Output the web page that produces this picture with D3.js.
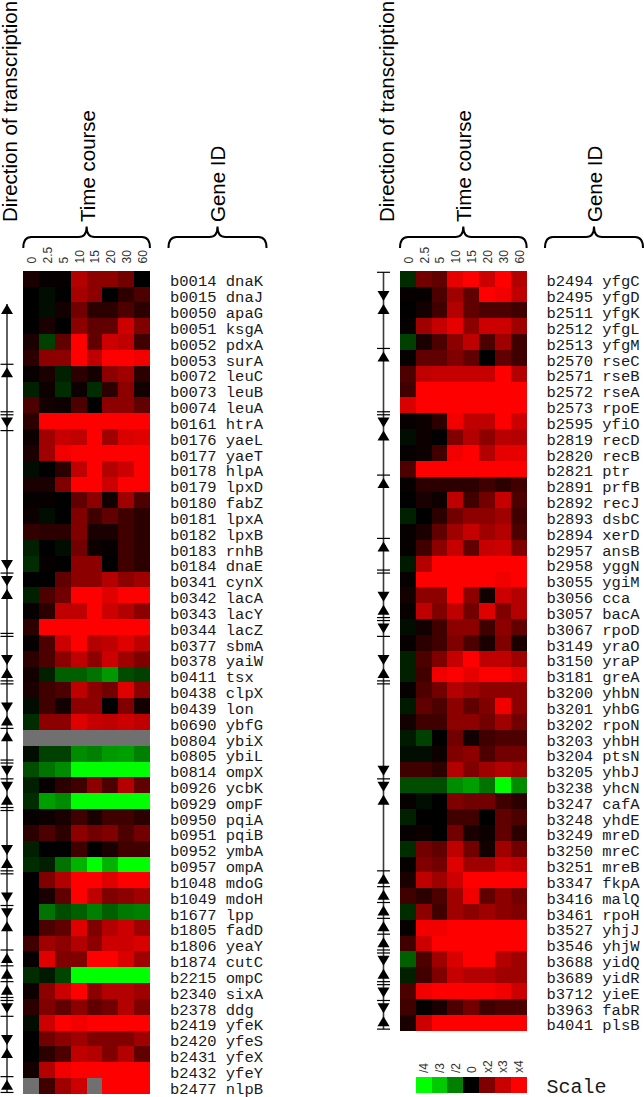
<!DOCTYPE html>
<html><head><meta charset="utf-8">
<script src="https://cdn.jsdelivr.net/npm/d3@7"></script>
<style>html,body{margin:0;padding:0;background:#fff;}svg{display:block;}</style>
</head><body>
<script>
// ---------------- DATA ----------------
const times = ["0","2.5","5","10","15","20","30","60"];

const leftIds = ["b0014","b0015","b0050","b0051","b0052","b0053","b0072","b0073","b0074","b0161","b0176","b0177","b0178","b0179","b0180","b0181","b0182","b0183","b0184","b0341","b0342","b0343","b0344","b0377","b0378","b0411","b0438","b0439","b0690","b0804","b0805","b0814","b0926","b0929","b0950","b0951","b0952","b0957","b1048","b1049","b1677","b1805","b1806","b1874","b2215","b2340","b2378","b2419","b2420","b2431","b2432","b2477"];
const leftNames = ["dnaK","dnaJ","apaG","ksgA","pdxA","surA","leuC","leuB","leuA","htrA","yaeL","yaeT","hlpA","lpxD","fabZ","lpxA","lpxB","rnhB","dnaE","cynX","lacA","lacY","lacZ","sbmA","yaiW","tsx","clpX","lon","ybfG","ybiX","ybiL","ompX","ycbK","ompF","pqiA","pqiB","ymbA","ompA","mdoG","mdoH","lpp","fadD","yeaY","cutC","ompC","sixA","ddg","yfeK","yfeS","yfeX","yfeY","nlpB"];
// log2 ratio per time point (null = missing)
const leftValues = [
[0.2,0.05,0.05,1.4,1.1,1.1,0.9,0],
[0,-0.1,0,1.3,1.1,0,0.35,0.6],
[0,-0.1,0.15,0.9,0.35,0.35,0.6,0.35],
[0,0.2,0,1.1,0.75,0.75,1.6,1.0],
[0.2,-0.5,0.75,2,0.75,1.6,1.5,0.5],
[0.35,1.1,1.1,2,1.5,2,2,1.9],
[0.05,0.2,-0.25,0.35,0.15,1.1,1.25,0.35],
[-0.25,0.1,-0.35,0.1,-0.35,0.35,1.1,0.15],
[0.6,0.15,0.1,0.6,0,1.1,1.1,0.75],
[0.35,2,2,2,2,2,2,2],
[0.1,1.25,1.55,1.5,2,1.25,1.7,1.75],
[0.2,1.25,1.9,2,2,2,2,2],
[-0.1,0,0.35,1.5,2,1.4,1.6,2],
[0.2,0.2,1.0,2,2,1.6,2,2],
[0.05,0.05,0,0.75,1.1,0.15,1.25,0.6],
[0.1,-0.1,0,1.0,0.5,0.75,0.5,0.35],
[0.4,0.35,0.35,1.0,0.2,0.2,0.5,0.35],
[-0.25,0,-0.1,0.9,0.1,0.05,0.5,0.35],
[-0.35,0.05,0,1.1,1.1,0,0.5,0.35],
[0,0,0.75,1.1,1.1,1.4,1.1,1.25],
[-0.25,0.6,0.9,2,2,1.75,2,2],
[0.05,0.35,1.5,1.5,2,1.6,1.4,1.1],
[0.35,2,2,2,2,2,2,2],
[0.05,0.6,1.6,2,1.4,1.5,1.75,1.5],
[0.35,0.6,1.1,1.5,1.1,1.6,1.25,1.0],
[0.15,-0.25,-0.75,-0.75,-0.9,-1.2,-0.6,-0.5],
[0.2,0.5,0.6,1.5,1.1,0.9,1.75,1.1],
[-0.1,0.5,0.15,1.1,1.1,0,1.0,0.15],
[-0.35,1.1,1.1,1.75,1.55,1.5,1.6,1.5],
[null,null,null,null,null,null,null,null],
[-0.1,-0.5,-0.5,-1.1,-1.0,-1.2,-1.25,-1.0],
[-0.6,-0.9,-1.1,-2,-2,-2,-2,-2],
[-0.25,0.05,0.35,0.5,1.1,0.6,1.4,0.75],
[-0.35,-1.25,-1.1,-2,-2,-2,-2,-2],
[0.05,0.1,0.2,0.5,0.2,0.5,0.5,0.35],
[0.35,0.6,0.35,1.1,0.9,1.0,0.6,0.9],
[-0.25,0,0,0.5,0,0.2,0.5,0.5],
[-0.35,-0.25,-0.9,-1.4,-2,-1.4,-2,-2],
[0,1.0,1.4,2,2,1.75,2,2],
[0,0.2,0.75,2,1.5,1.0,1.1,1.25],
[0,-0.9,-0.6,-0.75,-1.0,-0.75,-0.95,-1.0],
[0,0.6,0.75,1.75,1.0,1.4,1.6,1.25],
[0.5,1.25,1.1,1.4,1.1,1.6,1.6,1.7],
[0.05,1.75,1.0,1.0,2,2,1.7,1.25],
[-0.35,-0.2,-0.55,-2,-2,-2,-2,-2],
[0.1,1.1,1.6,2,1.1,1.4,1.4,1.25],
[0.35,1.0,0.75,1.1,0.75,0.9,1.4,1.0],
[-0.1,1.6,2,1.9,2,2,2,2],
[0,0.9,1.1,1.25,1.0,1.0,1.0,1.25],
[0,0.35,0.6,1.5,1.4,1.0,1.4,0.75],
[0.15,1.4,1.9,2,2,2,2,2],
[null,0.5,1.25,1.6,null,2,2,2]
];
// operons: [first gene, last gene, strand]
const leftOperons = [
["b0050","b0053","-"],["b0072","b0074","-"],["b0161","b0161","+"],["b0176","b0184","+"],
["b0341","b0341","+"],["b0342","b0344","-"],["b0377","b0378","+"],["b0411","b0411","-"],
["b0438","b0439","+"],["b0690","b0690","-"],["b0804","b0805","-"],["b0814","b0814","+"],
["b0926","b0926","+"],["b0929","b0929","-"],["b0950","b0952","+"],["b0957","b0957","-"],
["b1048","b1049","+"],["b1677","b1677","+"],["b1805","b1806","-"],["b1874","b1874","-"],
["b2215","b2215","-"],["b2340","b2340","-"],["b2378","b2378","+"],["b2419","b2420","+"],
["b2431","b2432","-"],["b2477","b2477","-"]
];

const rightIds = ["b2494","b2495","b2511","b2512","b2513","b2570","b2571","b2572","b2573","b2595","b2819","b2820","b2821","b2891","b2892","b2893","b2894","b2957","b2958","b3055","b3056","b3057","b3067","b3149","b3150","b3181","b3200","b3201","b3202","b3203","b3204","b3205","b3238","b3247","b3248","b3249","b3250","b3251","b3347","b3416","b3461","b3527","b3546","b3688","b3689","b3712","b3963","b4041"];
const rightNames = ["yfgC","yfgD","yfgK","yfgL","yfgM","rseC","rseB","rseA","rpoE","yfiO","recD","recB","ptr","prfB","recJ","dsbC","xerD","ansB","yggN","ygiM","cca","bacA","rpoD","yraO","yraP","greA","yhbN","yhbG","rpoN","yhbH","ptsN","yhbJ","yhcN","cafA","yhdE","mreD","mreC","mreB","fkpA","malQ","rpoH","yhjJ","yhjW","yidQ","yidR","yieE","fabR","plsB"];
const rightValues = [
[-0.35,0.9,0.75,1.8,2,1.6,2,1.4],
[0.05,0.05,0.6,1.25,0.75,2,1.9,1.5],
[0,0.15,0.5,1.4,0.75,0.6,0.6,0.5],
[0.05,1.25,1.55,1.8,1.1,1.6,1.6,1.25],
[-0.5,0.2,0.6,1.1,1.5,0.6,1.25,0.5],
[0.05,0.75,0.75,1.0,0.75,0,0.75,0.5],
[0.6,1.5,1.55,1.55,1.55,1.55,2,1.4],
[0.5,2,2,2,2,2,2,2],
[1.7,2,2,2,2,2,2,2],
[0.05,0.1,0.35,1.9,1.5,1.5,2,1.6],
[-0.1,0.1,0,1.0,1.4,1.1,1.45,1.4],
[0.05,0.1,0.5,1.9,2,1.4,1.8,1.8],
[0.6,2,2,2,2,2,2,2],
[0.05,0.35,0.35,0.35,0.35,0.5,0.35,0.5],
[0,0.2,0.1,1.5,0.5,0.9,1.55,0.6],
[-0.25,0,0.35,0.9,1.1,1.1,1.25,0.5],
[0.05,0.2,0.75,1.25,1.55,1.25,1.4,0.6],
[0.05,0.5,1.1,1.55,0.75,1.55,1.6,1.0],
[-0.2,1.4,2,2,2,2,2,2],
[0.05,2,2,2,2,2,1.9,2],
[0.15,1.1,1.1,2,1.1,0.15,1.6,1.4],
[0.05,1.5,1.0,1.5,0.9,1.75,1.0,1.4],
[-0.1,0.15,0.5,1.1,1.1,0.5,1.1,0.75],
[0.05,0.35,0.5,1.0,0.6,0.2,1.0,0.2],
[-0.25,0.6,1.0,1.55,2,1.5,1.5,1.25],
[-0.25,0.5,1.9,2,1.8,2,2,1.8],
[0.05,0.6,0.9,1.4,1.25,1.1,1.1,1.1],
[-0.2,0.75,0.6,1.1,0.75,1.0,1.9,1.1],
[0.15,0.5,0.5,1.1,1.1,0.9,1.25,0.9],
[-0.2,-0.5,0,0.9,0.15,0.5,0.6,0.6],
[-0.1,-0.1,0.1,1.0,1.1,0.6,0.9,0.9],
[0.5,0.5,0.35,1.4,1.0,1.25,1.4,1.25],
[-0.6,-0.6,-0.6,-1.1,-1.25,-0.9,-2,-1.1],
[0.05,-0.1,0,1.0,0.9,0.9,0.5,0.35],
[-0.25,0,0,0.5,0.5,0,0.75,0.6],
[0.05,0.1,0,0.9,0.2,0.1,0.75,0.35],
[-0.35,0.9,0.75,1.5,0.9,0.15,1.25,0.9],
[0.05,1.0,0.9,1.75,1.25,1.25,1.6,1.5],
[0.2,1.5,1.25,1.6,2,2,2,2],
[0.5,0.35,0.6,1.25,1.9,0.75,1.1,0.9],
[-0.35,1.1,0.5,1.25,1.1,1.25,1.1,1.0],
[0.05,1.9,1.9,2,2,2,2,2],
[0.5,1.6,2,2,2,2,2,2],
[-0.75,0.6,1.25,1.7,2,2,1.4,1.25],
[-0.25,0.5,1.0,1.55,1.4,1.4,1.25,1.25],
[0.6,1.9,2,2,2,2,1.9,1.6],
[0.5,0.05,0.2,0.6,0.9,0.5,0.6,0.6],
[0.2,1.6,2,2,2,2,2,2]
];
const rightOperons = [
["b2494","b2495","+"],["b2511","b2513","-"],["b2570","b2573","-"],["b2595","b2595","+"],
["b2819","b2821","-"],["b2891","b2894","-"],["b2957","b2958","-"],["b3055","b3056","+"],
["b3057","b3057","-"],["b3067","b3067","+"],["b3149","b3150","+"],["b3181","b3181","-"],
["b3200","b3205","+"],["b3238","b3238","+"],["b3247","b3251","-"],["b3347","b3347","-"],
["b3416","b3416","-"],["b3461","b3461","-"],["b3527","b3527","-"],["b3546","b3546","-"],
["b3688","b3688","+"],["b3689","b3689","-"],["b3712","b3712","+"],["b3963","b3963","+"],
["b4041","b4041","-"]
];

const scaleLabels = ["/4","/3","/2","0","x2","x3","x4"];
const scaleValues = [-2, -1.585, -1, 0, 1, 1.585, 2];

// ---------------- LAYOUT ----------------
const W = 644, H = 1097;
const CELL = 15.83, TOP = 270.8;
const SANS = "'Liberation Sans', Arial, Helvetica, sans-serif";
const MONO = "'Liberation Mono', 'Courier New', Courier, monospace";

const svg = d3.select("body").append("svg").attr("width", W).attr("height", H)
  .attr("viewBox", `0 0 ${W} ${H}`);

const color = d3.scaleLinear().domain([-2, 0, 2])
  .range(["#00ff00", "#000000", "#ff0000"]).clamp(true);
const MISSING = "#707070";

function brace(x1, x2, xt) {
  const yb = 248, ym = 237, yt = 226.5, r = 8;
  return `M${x1},${yb} Q${x1},${ym} ${x1 + r},${ym} L${xt - r},${ym} Q${xt},${ym} ${xt},${yt}` +
         ` Q${xt},${ym} ${xt + r},${ym} L${x2 - r},${ym} Q${x2},${ym} ${x2},${yb}`;
}

function panel(cfg) {
  const g = svg.append("g");
  const x = d3.scaleBand().domain(times).range([cfg.x0, cfg.x0 + times.length * CELL]);
  const y = d3.scaleBand().domain(cfg.ids).range([TOP, TOP + cfg.ids.length * CELL]);

  // cells
  const cells = [];
  cfg.values.forEach((row, i) => row.forEach((v, j) => cells.push({id: cfg.ids[i], t: times[j], v})));
  g.append("g").attr("shape-rendering", "crispEdges").selectAll("rect").data(cells).join("rect")
    .attr("x", d => x(d.t)).attr("y", d => y(d.id))
    .attr("width", x.bandwidth() + 0.4).attr("height", y.bandwidth() + 0.4)
    .attr("fill", d => d.v === null ? MISSING : color(d.v));

  // time labels
  g.append("g").selectAll("text").data(times).join("text")
    .attr("transform", d => `translate(${x(d) + x.bandwidth() / 2 + 4.8},263.5) rotate(-90)`)
    .attr("font-family", SANS).attr("font-size", 12).attr("fill", "#333")
    .text(d => d);

  // gene labels
  g.append("g").selectAll("text").data(cfg.ids).join("text")
    .attr("x", cfg.labelX).attr("y", d => y(d) + y.bandwidth() - 0.2)
    .attr("font-family", MONO).attr("font-size", 15.5).attr("fill", "#1a1a1a")
    .text((d, i) => d + " " + cfg.names[i]);

  // direction of transcription
  const lx = cfg.lineX, gap = 1.5, hw = 6, th = 10, tw = 6.5;
  const first = cfg.operons[0], last = cfg.operons[cfg.operons.length - 1];
  g.append("line").attr("x1", lx).attr("x2", lx)
    .attr("y1", y(first[0]) + gap).attr("y2", y(last[1]) + y.bandwidth() - gap)
    .attr("stroke", "#3a3a3a").attr("stroke-width", 1.6);
  cfg.operons.forEach(([a, b, s]) => {
    const y0 = y(a) + gap, y1 = y(b) + y.bandwidth() - gap;
    const tickY = s === "+" ? y0 : y1;
    g.append("line").attr("x1", lx - tw).attr("x2", lx + tw).attr("y1", tickY).attr("y2", tickY)
      .attr("stroke", "#000").attr("stroke-width", 1.2);
    const pts = s === "+"
      ? [[lx, y1], [lx - hw, y1 - th], [lx + hw, y1 - th]]
      : [[lx, y0], [lx - hw, y0 + th], [lx + hw, y0 + th]];
    g.append("path").attr("d", "M" + pts.map(p => p.join(",")).join("L") + "Z").attr("fill", "#000");
  });

  // headers
  const xA = cfg.x0, xB = cfg.x0 + times.length * CELL;
  const tcTip = (xA + xB) / 2;
  g.append("path").attr("d", brace(xA, xB, tcTip)).attr("fill", "none")
    .attr("stroke", "#000").attr("stroke-width", 2);
  g.append("path").attr("d", brace(cfg.gidA, cfg.gidB, (cfg.gidA + cfg.gidB) / 2)).attr("fill", "none")
    .attr("stroke", "#000").attr("stroke-width", 2);
  const hdr = [
    {t: "Direction of transcription", x: lx + 10},
    {t: "Time course", x: tcTip + 8},
    {t: "Gene ID", x: (cfg.gidA + cfg.gidB) / 2 + 7.5}
  ];
  g.append("g").selectAll("text").data(hdr).join("text")
    .attr("transform", d => `translate(${d.x},222) rotate(-90)`)
    .attr("font-family", SANS).attr("font-size", 20.5).attr("fill", "#000")
    .text(d => d.t);
  return x;
}

panel({ids: leftIds, names: leftNames, values: leftValues, operons: leftOperons,
       x0: 23.3, labelX: 170, lineX: 7, gidA: 168.5, gidB: 266.5});
const xr = panel({ids: rightIds, names: rightNames, values: rightValues, operons: rightOperons,
       x0: 400, labelX: 546.5, lineX: 383.5, gidA: 545, gidB: 643});

// scale legend
const lx0 = 400 + times.length * CELL - scaleLabels.length * CELL;
const xs = d3.scaleBand().domain(scaleLabels).range([lx0, lx0 + scaleLabels.length * CELL]);
const lg = svg.append("g");
lg.append("g").attr("shape-rendering", "crispEdges").selectAll("rect").data(scaleLabels).join("rect")
  .attr("x", d => xs(d)).attr("y", 1077).attr("width", xs.bandwidth() + 0.4).attr("height", 15.8)
  .attr("fill", (d, i) => color(scaleValues[i]));
lg.append("g").selectAll("text").data(scaleLabels).join("text")
  .attr("transform", d => `translate(${xs(d) + xs.bandwidth() / 2 + 4.5},1073) rotate(-90)`)
  .attr("font-family", SANS).attr("font-size", 12).attr("fill", "#333")
  .text(d => d);
lg.append("text").attr("x", 546.5).attr("y", 1093)
  .attr("font-family", MONO).attr("font-size", 20).attr("fill", "#1a1a1a").text("Scale");
</script>
</body></html>
